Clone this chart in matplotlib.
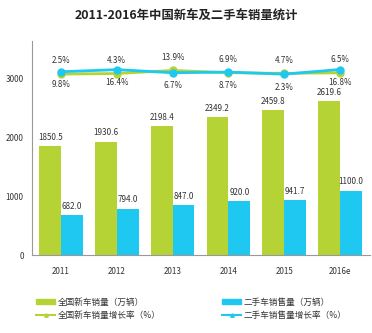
import matplotlib
matplotlib.use('Agg')
import matplotlib.pyplot as plt
import numpy as np
from matplotlib.patches import Patch
from matplotlib.lines import Line2D

plt.rcParams['font.family'] = ['Noto Sans CJK SC', 'DejaVu Sans']

years = ['2011', '2012', '2013', '2014', '2015', '2016e']
new_sales = [1850.5, 1930.6, 2198.4, 2349.2, 2459.8, 2619.6]
used_sales = [682.0, 794.0, 847.0, 920.0, 941.7, 1100.0]
new_growth = [2.5, 4.3, 13.9, 6.9, 4.7, 6.5]
used_growth = [9.8, 16.4, 6.7, 8.7, 2.3, 16.8]

GREEN = '#b5d334'
BLUE = '#1fc8f0'
TXT = '#333333'

fig = plt.figure(figsize=(3.72, 3.33), dpi=100)
ax = fig.add_axes([0.086, 0.233, 0.909, 0.644])
x = np.arange(len(years))
w = 0.39

b1 = ax.bar(x - w / 2, new_sales, w, color=GREEN, zorder=2)
b2 = ax.bar(x + w / 2, used_sales, w, color=BLUE, zorder=2)
for bars in (b1, b2):
    for r in bars:
        ax.annotate(f'{r.get_height():.1f}', (r.get_x() + r.get_width() / 2, r.get_height()),
                    xytext=(0, 3), textcoords='offset points', ha='center', va='bottom',
                    fontsize=5.8, color=TXT)

ax.set_xlim(-0.52, 5.54)
ax.set_ylim(0, 3635)
ax.set_yticks([0, 1000, 2000, 3000])
ax.set_xticks(x)
ax.set_xticklabels(years)
ax.tick_params(axis='both', length=0, labelsize=5.8, colors=TXT)
ax.tick_params(axis='x', pad=8)
ax.tick_params(axis='y', pad=6)
for s in ['top', 'right']:
    ax.spines[s].set_visible(False)
for s in ['left', 'bottom']:
    ax.spines[s].set_color('#999999')
    ax.spines[s].set_linewidth(0.8)

# growth rates on a hidden secondary axis
ax2 = ax.twinx()
ax2.set_ylim(-564, 106)
ax2.axis('off')
ax2.plot(x, new_growth, color=GREEN, lw=2, marker='o', ms=5, zorder=3)
ax2.plot(x, used_growth, color=BLUE, lw=2, marker='o', ms=5, zorder=4)
for i in range(len(years)):
    ax2.annotate(f'{new_growth[i]}%', (x[i], new_growth[i]), xytext=(0, 9.5),
                 textcoords='offset points', ha='center', va='center', fontsize=5.8, color=TXT)
    ax2.annotate(f'{used_growth[i]}%', (x[i], used_growth[i]), xytext=(0, -9.5),
                 textcoords='offset points', ha='center', va='center', fontsize=5.8, color=TXT)

fig.text(0.5, 0.952, '2011-2016年中国新车及二手车销量统计', ha='center', va='center',
         fontsize=8.9, fontweight='bold', color='#222222')

handles = [Patch(color=GREEN), Line2D([], [], color=GREEN, lw=1.5, marker='^', ms=2.5),
           Patch(color=BLUE), Line2D([], [], color=BLUE, lw=1.5, marker='^', ms=2.5)]
labels = ['全国新车销量（万辆）', '全国新车销量增长率（%）', '二手车销售量（万辆）', '二手车销售量增长率（%）']
fig.legend(handles, labels, ncol=2, loc='center left', bbox_to_anchor=(0.0766, 0.073),
           frameon=False, fontsize=6.2, handlelength=2.2, handleheight=0.6,
           columnspacing=7.2, labelspacing=0.45, handletextpad=0.25, labelcolor=TXT)

fig.savefig('out.png', dpi=100)
